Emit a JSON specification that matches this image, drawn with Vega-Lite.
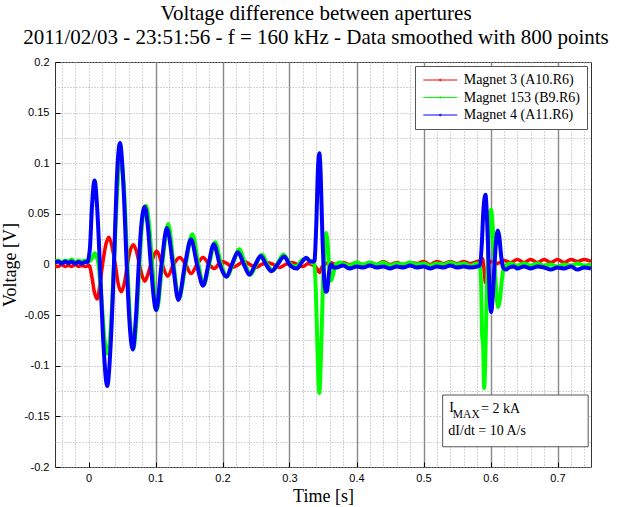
{
  "$schema": "https://vega.github.io/schema/vega-lite/v6.json",
  "width": 536,
  "height": 405,
  "autosize": "none",
  "padding": {"left": 55, "top": 62, "right": 40, "bottom": 40},
  "background": "white",
  "title": {
    "text": ["Voltage difference between apertures", "2011/02/03 - 23:51:56 - f = 160 kHz - Data smoothed with 800 points"],
    "font": "Liberation Serif",
    "fontSize": 21,
    "fontWeight": "normal",
    "color": "black",
    "lineHeight": 24,
    "anchor": "middle",
    "frame": "group",
    "dx": -7,
    "offset": 8
  },
  "datasets": {
    "red": [
      {"t": -0.05, "v": -0.001}, {"t": -0.045, "v": -0.002}, {"t": -0.04, "v": 0.0}, {"t": -0.035, "v": -0.002}, {"t": -0.03, "v": -0.001}, {"t": -0.025, "v": -0.002}, {"t": -0.02, "v": 0.0}, {"t": -0.015, "v": -0.002}, {"t": -0.01, "v": -0.001}, {"t": -0.005, "v": -0.002}, {"t": 0.001, "v": -0.001},
      {"t": 0.005, "v": -0.012}, {"t": 0.009, "v": -0.028}, {"t": 0.013, "v": -0.034}, {"t": 0.017, "v": -0.02}, {"t": 0.021, "v": 0.0}, {"t": 0.026, "v": 0.02}, {"t": 0.0305, "v": 0.027}, {"t": 0.035, "v": 0.018}, {"t": 0.04, "v": 0.0}, {"t": 0.044, "v": -0.018}, {"t": 0.049, "v": -0.027}, {"t": 0.054, "v": -0.017}, {"t": 0.058, "v": 0.0},
      {"t": 0.062, "v": 0.013}, {"t": 0.067, "v": 0.0195}, {"t": 0.072, "v": 0.012}, {"t": 0.076, "v": 0.0}, {"t": 0.08, "v": -0.011}, {"t": 0.084, "v": -0.0165}, {"t": 0.088, "v": -0.011}, {"t": 0.093, "v": 0.0}, {"t": 0.102, "v": 0.013}, {"t": 0.11, "v": 0.0}, {"t": 0.118, "v": -0.0115}, {"t": 0.127, "v": 0.0}, {"t": 0.136, "v": 0.007}, {"t": 0.145, "v": 0.0}, {"t": 0.153, "v": -0.009}, {"t": 0.162, "v": 0.0}, {"t": 0.171, "v": 0.007}, {"t": 0.18, "v": 0.0}, {"t": 0.188, "v": -0.004}, {"t": 0.198, "v": 0.003},
      {"t": 0.207, "v": 0.001}, {"t": 0.215, "v": -0.003}, {"t": 0.224, "v": 0.0}, {"t": 0.232, "v": 0.003}, {"t": 0.241, "v": 0.0}, {"t": 0.25, "v": -0.003}, {"t": 0.258, "v": 0.0}, {"t": 0.267, "v": 0.002}, {"t": 0.276, "v": 0.0}, {"t": 0.285, "v": -0.003}, {"t": 0.294, "v": 0.0}, {"t": 0.303, "v": 0.002}, {"t": 0.312, "v": 0.0}, {"t": 0.32, "v": -0.002}, {"t": 0.328, "v": 0.001}, {"t": 0.336, "v": -0.001}, {"t": 0.341, "v": -0.004}, {"t": 0.3445, "v": -0.008}, {"t": 0.348, "v": -0.003}, {"t": 0.354, "v": 0.001}, {"t": 0.36, "v": 0.002},
      {"t": 0.37, "v": 0.0}, {"t": 0.38, "v": 0.002}, {"t": 0.39, "v": 0.0}, {"t": 0.4, "v": 0.002}, {"t": 0.41, "v": 0.0}, {"t": 0.42, "v": 0.002}, {"t": 0.43, "v": 0.0}, {"t": 0.44, "v": 0.003}, {"t": 0.45, "v": 0.0}, {"t": 0.46, "v": 0.002}, {"t": 0.47, "v": 0.0}, {"t": 0.48, "v": 0.002}, {"t": 0.49, "v": 0.001}, {"t": 0.5, "v": 0.003}, {"t": 0.51, "v": 0.0}, {"t": 0.52, "v": 0.003}, {"t": 0.53, "v": 0.001}, {"t": 0.54, "v": 0.003}, {"t": 0.55, "v": 0.001}, {"t": 0.56, "v": 0.003}, {"t": 0.57, "v": 0.001}, {"t": 0.58, "v": 0.003},
      {"t": 0.585, "v": 0.004}, {"t": 0.588, "v": 0.006}, {"t": 0.5905, "v": -0.006}, {"t": 0.5925, "v": -0.018}, {"t": 0.595, "v": -0.005}, {"t": 0.598, "v": 0.002}, {"t": 0.603, "v": 0.003}, {"t": 0.61, "v": 0.001}, {"t": 0.62, "v": 0.004}, {"t": 0.63, "v": 0.002}, {"t": 0.64, "v": 0.005}, {"t": 0.65, "v": 0.002}, {"t": 0.66, "v": 0.005}, {"t": 0.67, "v": 0.002}, {"t": 0.68, "v": 0.005}, {"t": 0.69, "v": 0.002}, {"t": 0.7, "v": 0.005}, {"t": 0.71, "v": 0.002}, {"t": 0.72, "v": 0.005}, {"t": 0.73, "v": 0.003}, {"t": 0.74, "v": 0.005}, {"t": 0.75, "v": 0.003}
    ],
    "green": [
      {"t": -0.05, "v": 0.003}, {"t": -0.045, "v": 0.004}, {"t": -0.04, "v": 0.002}, {"t": -0.035, "v": 0.004}, {"t": -0.03, "v": 0.003}, {"t": -0.025, "v": 0.005}, {"t": -0.02, "v": 0.002}, {"t": -0.015, "v": 0.004}, {"t": -0.01, "v": 0.003}, {"t": -0.005, "v": 0.004}, {"t": 0.0, "v": 0.003},
      {"t": 0.005, "v": 0.006}, {"t": 0.0095, "v": 0.011}, {"t": 0.012, "v": 0.008}, {"t": 0.015, "v": 0.0}, {"t": 0.02, "v": -0.04}, {"t": 0.024, "v": -0.075}, {"t": 0.0285, "v": -0.088}, {"t": 0.033, "v": -0.065}, {"t": 0.038, "v": 0.0}, {"t": 0.043, "v": 0.075}, {"t": 0.048, "v": 0.106}, {"t": 0.053, "v": 0.075}, {"t": 0.058, "v": 0.0}, {"t": 0.062, "v": -0.055}, {"t": 0.067, "v": -0.083}, {"t": 0.072, "v": -0.05}, {"t": 0.076, "v": 0.0}, {"t": 0.08, "v": 0.04}, {"t": 0.086, "v": 0.058}, {"t": 0.091, "v": 0.035}, {"t": 0.095, "v": 0.0},
      {"t": 0.102, "v": -0.045}, {"t": 0.11, "v": 0.0}, {"t": 0.119, "v": 0.04}, {"t": 0.127, "v": 0.0}, {"t": 0.135, "v": -0.034}, {"t": 0.145, "v": 0.0}, {"t": 0.155, "v": 0.03}, {"t": 0.164, "v": 0.0}, {"t": 0.172, "v": -0.02}, {"t": 0.18, "v": 0.0}, {"t": 0.189, "v": 0.022}, {"t": 0.198, "v": 0.0}, {"t": 0.207, "v": -0.012}, {"t": 0.215, "v": 0.0}, {"t": 0.225, "v": 0.015}, {"t": 0.234, "v": 0.0}, {"t": 0.242, "v": -0.01}, {"t": 0.25, "v": 0.0}, {"t": 0.259, "v": 0.01}, {"t": 0.267, "v": 0.0}, {"t": 0.275, "v": -0.006}, {"t": 0.283, "v": 0.002}, {"t": 0.291, "v": 0.01}, {"t": 0.3, "v": 0.001}, {"t": 0.31, "v": -0.002}, {"t": 0.318, "v": 0.004}, {"t": 0.326, "v": 0.006}, {"t": 0.333, "v": 0.002},
      {"t": 0.337, "v": 0.0}, {"t": 0.3395, "v": -0.03}, {"t": 0.342, "v": -0.09}, {"t": 0.3445, "v": -0.127}, {"t": 0.347, "v": -0.09}, {"t": 0.3495, "v": -0.03}, {"t": 0.352, "v": 0.012}, {"t": 0.3545, "v": 0.031}, {"t": 0.357, "v": 0.02}, {"t": 0.3595, "v": -0.006}, {"t": 0.362, "v": -0.016}, {"t": 0.365, "v": -0.01}, {"t": 0.369, "v": 0.0}, {"t": 0.375, "v": 0.002},
      {"t": 0.38, "v": 0.001}, {"t": 0.39, "v": -0.001}, {"t": 0.4, "v": 0.002}, {"t": 0.41, "v": 0.0}, {"t": 0.42, "v": 0.002}, {"t": 0.43, "v": 0.0}, {"t": 0.44, "v": 0.002}, {"t": 0.45, "v": -0.001}, {"t": 0.46, "v": 0.001}, {"t": 0.47, "v": 0.0}, {"t": 0.48, "v": 0.002}, {"t": 0.49, "v": 0.0}, {"t": 0.5, "v": 0.001}, {"t": 0.51, "v": -0.001}, {"t": 0.52, "v": 0.001}, {"t": 0.53, "v": 0.0}, {"t": 0.54, "v": 0.002}, {"t": 0.55, "v": 0.0}, {"t": 0.56, "v": 0.001}, {"t": 0.57, "v": -0.001}, {"t": 0.58, "v": 0.001}, {"t": 0.584, "v": 0.0},
      {"t": 0.586, "v": -0.02}, {"t": 0.5875, "v": -0.07}, {"t": 0.589, "v": -0.08}, {"t": 0.5905, "v": -0.122}, {"t": 0.592, "v": -0.1}, {"t": 0.594, "v": -0.04}, {"t": 0.597, "v": 0.02}, {"t": 0.599, "v": 0.045}, {"t": 0.601, "v": 0.054}, {"t": 0.603, "v": 0.04}, {"t": 0.606, "v": 0.0}, {"t": 0.609, "v": -0.03}, {"t": 0.6115, "v": -0.042}, {"t": 0.614, "v": -0.035}, {"t": 0.617, "v": -0.015}, {"t": 0.62, "v": -0.003}, {"t": 0.625, "v": 0.0}, {"t": 0.63, "v": 0.001},
      {"t": 0.64, "v": -0.001}, {"t": 0.65, "v": 0.001}, {"t": 0.66, "v": -0.001}, {"t": 0.67, "v": 0.001}, {"t": 0.68, "v": -0.001}, {"t": 0.69, "v": 0.0}, {"t": 0.7, "v": -0.002}, {"t": 0.71, "v": 0.0}, {"t": 0.72, "v": -0.001}, {"t": 0.73, "v": 0.001}, {"t": 0.74, "v": -0.001}, {"t": 0.75, "v": 0.0}
    ],
    "blue": [
      {"t": -0.05, "v": 0.002}, {"t": -0.045, "v": 0.003}, {"t": -0.04, "v": 0.001}, {"t": -0.035, "v": 0.003}, {"t": -0.03, "v": 0.0015}, {"t": -0.025, "v": 0.003}, {"t": -0.02, "v": 0.001}, {"t": -0.015, "v": 0.0025}, {"t": -0.01, "v": 0.001}, {"t": -0.005, "v": 0.0025}, {"t": -0.002, "v": 0.002},
      {"t": 0.002, "v": 0.015}, {"t": 0.005, "v": 0.055}, {"t": 0.009, "v": 0.083}, {"t": 0.013, "v": 0.055}, {"t": 0.017, "v": 0.0}, {"t": 0.022, "v": -0.075}, {"t": 0.028, "v": -0.12}, {"t": 0.033, "v": -0.08}, {"t": 0.038, "v": 0.0}, {"t": 0.042, "v": 0.08}, {"t": 0.047, "v": 0.12}, {"t": 0.052, "v": 0.08}, {"t": 0.057, "v": 0.0}, {"t": 0.061, "v": -0.055}, {"t": 0.066, "v": -0.084}, {"t": 0.071, "v": -0.05}, {"t": 0.075, "v": 0.0}, {"t": 0.079, "v": 0.04}, {"t": 0.084, "v": 0.057}, {"t": 0.089, "v": 0.035}, {"t": 0.093, "v": 0.0},
      {"t": 0.101, "v": -0.045}, {"t": 0.109, "v": 0.0}, {"t": 0.117, "v": 0.036}, {"t": 0.126, "v": 0.0}, {"t": 0.134, "v": -0.035}, {"t": 0.144, "v": 0.0}, {"t": 0.153, "v": 0.025}, {"t": 0.162, "v": 0.0}, {"t": 0.171, "v": -0.021}, {"t": 0.179, "v": 0.0}, {"t": 0.187, "v": 0.02}, {"t": 0.196, "v": 0.0}, {"t": 0.206, "v": -0.012}, {"t": 0.214, "v": 0.0}, {"t": 0.223, "v": 0.012}, {"t": 0.232, "v": 0.0}, {"t": 0.24, "v": -0.01}, {"t": 0.249, "v": 0.0}, {"t": 0.257, "v": 0.0085}, {"t": 0.265, "v": 0.0}, {"t": 0.273, "v": -0.0066}, {"t": 0.282, "v": 0.0}, {"t": 0.292, "v": 0.008}, {"t": 0.301, "v": -0.001}, {"t": 0.311, "v": -0.004}, {"t": 0.318, "v": 0.002}, {"t": 0.325, "v": 0.0066}, {"t": 0.331, "v": 0.003},
      {"t": 0.337, "v": 0.003}, {"t": 0.34, "v": 0.04}, {"t": 0.3425, "v": 0.095}, {"t": 0.3445, "v": 0.11}, {"t": 0.3465, "v": 0.09}, {"t": 0.349, "v": 0.03}, {"t": 0.351, "v": -0.005}, {"t": 0.354, "v": -0.027}, {"t": 0.356, "v": -0.026}, {"t": 0.359, "v": -0.008}, {"t": 0.362, "v": 0.0}, {"t": 0.366, "v": -0.003},
      {"t": 0.37, "v": -0.003}, {"t": 0.38, "v": -0.001}, {"t": 0.39, "v": -0.004}, {"t": 0.4, "v": -0.002}, {"t": 0.41, "v": -0.003}, {"t": 0.42, "v": -0.001}, {"t": 0.43, "v": -0.003}, {"t": 0.44, "v": -0.002}, {"t": 0.45, "v": -0.004}, {"t": 0.46, "v": -0.002}, {"t": 0.47, "v": -0.003}, {"t": 0.48, "v": -0.001}, {"t": 0.49, "v": -0.003}, {"t": 0.5, "v": -0.002}, {"t": 0.51, "v": -0.004}, {"t": 0.52, "v": -0.002}, {"t": 0.53, "v": -0.003}, {"t": 0.54, "v": -0.001}, {"t": 0.55, "v": -0.003}, {"t": 0.56, "v": -0.002}, {"t": 0.57, "v": -0.003}, {"t": 0.58, "v": -0.002}, {"t": 0.584, "v": -0.001},
      {"t": 0.587, "v": 0.02}, {"t": 0.5895, "v": 0.055}, {"t": 0.5925, "v": 0.069}, {"t": 0.5945, "v": 0.05}, {"t": 0.597, "v": 0.005}, {"t": 0.599, "v": -0.035}, {"t": 0.601, "v": -0.047}, {"t": 0.603, "v": -0.035}, {"t": 0.606, "v": 0.0}, {"t": 0.609, "v": 0.028}, {"t": 0.611, "v": 0.0335}, {"t": 0.613, "v": 0.028}, {"t": 0.616, "v": 0.008}, {"t": 0.619, "v": -0.003}, {"t": 0.623, "v": -0.005}, {"t": 0.628, "v": -0.003}, {"t": 0.635, "v": -0.002},
      {"t": 0.64, "v": -0.004}, {"t": 0.65, "v": -0.002}, {"t": 0.66, "v": -0.004}, {"t": 0.67, "v": -0.002}, {"t": 0.68, "v": -0.003}, {"t": 0.69, "v": -0.005}, {"t": 0.7, "v": -0.003}, {"t": 0.71, "v": -0.004}, {"t": 0.72, "v": -0.002}, {"t": 0.73, "v": -0.005}, {"t": 0.74, "v": -0.003}, {"t": 0.75, "v": -0.004}
    ]
  },
  "layer": [
    {
      "data": {"name": "red"},
      "mark": {"type": "line", "strokeWidth": 3.5, "interpolate": "monotone", "clip": true},
      "encoding": {
        "x": {
          "field": "t", "type": "quantitative",
          "scale": {"domain": [-0.05, 0.75], "nice": false, "zero": false},
          "axis": {
            "values": [-0.04, -0.02, 0, 0.02, 0.04, 0.06, 0.08, 0.1, 0.12, 0.14, 0.16, 0.18, 0.2, 0.22, 0.24, 0.26, 0.28, 0.3, 0.32, 0.34, 0.36, 0.38, 0.4, 0.42, 0.44, 0.46, 0.48, 0.5, 0.52, 0.54, 0.56, 0.58, 0.6, 0.62, 0.64, 0.66, 0.68, 0.7, 0.72, 0.74],
            "tickCount": 200,
            "title": "Time [s]",
            "titleFont": "Liberation Serif", "titleFontSize": 18, "titleFontWeight": "normal", "titleColor": "black", "titlePadding": 4,
            "labelFont": "Liberation Sans", "labelFontSize": 11, "labelColor": "black",
            "labelExpr": "abs(datum.value*10-round(datum.value*10))<0.001 ? (datum.value < -0.000001 ? '-' : '') + format(abs(datum.value), '.1~f') : ''",
            "labelOverlap": false, "labelFlush": false, "labelPadding": 10,
            "domain": false,
            "ticks": true, "tickSize": -5, "tickColor": "black", "tickWidth": 1,
            "tickOpacity": {"condition": {"test": "abs(datum.value*10-round(datum.value*10))<0.001", "value": 1}, "value": 0},
            "grid": true,
            "gridColor": {"condition": {"test": "datum.value > 0.05 && abs(datum.value*10-round(datum.value*10))<0.001", "value": "#888888"}, "value": "#a8a8a8"},
            "gridDash": {"condition": {"test": "datum.value > 0.05 && abs(datum.value*10-round(datum.value*10))<0.001", "value": []}, "value": [1, 2]},
            "gridWidth": {"condition": {"test": "datum.value > 0.05 && abs(datum.value*10-round(datum.value*10))<0.001", "value": 1.4}, "value": 1}
          }
        },
        "y": {
          "field": "v", "type": "quantitative",
          "scale": {"domain": [-0.2, 0.2], "nice": false, "zero": false},
          "axis": {
            "values": [-0.2, -0.175, -0.15, -0.125, -0.1, -0.075, -0.05, -0.025, 0, 0.025, 0.05, 0.075, 0.1, 0.125, 0.15, 0.175, 0.2],
            "tickCount": 200,
            "title": "Voltage [V]",
            "titleFont": "Liberation Serif", "titleFontSize": 18, "titleFontWeight": "normal", "titleColor": "black", "titlePadding": 4,
            "labelFont": "Liberation Sans", "labelFontSize": 11, "labelColor": "black",
            "labelExpr": "abs(datum.value*20-round(datum.value*20))<0.001 ? (datum.value < -0.000001 ? '-' : '') + format(abs(datum.value), '~g') : ''",
            "labelOverlap": false, "labelFlush": false, "labelPadding": 11,
            "domain": false,
            "ticks": true, "tickSize": -5, "tickColor": "black", "tickWidth": 1,
            "tickOpacity": {"condition": {"test": "abs(datum.value*20-round(datum.value*20))<0.001", "value": 1}, "value": 0},
            "grid": true, "gridColor": "#a8a8a8", "gridDash": [1, 2], "gridWidth": 1
          }
        },
        "color": {
          "datum": "Magnet 3 (A10.R6)", "type": "nominal",
          "scale": {"domain": ["Magnet 3 (A10.R6)", "Magnet 153 (B9.R6)", "Magnet 4 (A11.R6)"], "range": ["#ff0000", "#00ff00", "#0000ff"]},
          "legend": {
            "title": null, "orient": "top-right", "offset": 4,
            "padding": 7, "strokeColor": "#555555", "fillColor": "white",
            "labelFont": "Liberation Serif", "labelFontSize": 14, "labelColor": "black", "labelOffset": 16.4,
            "symbolType": "M-3,0L3,0M-0.15,0A0.15,0.15,0,1,1,0.15,0A0.15,0.15,0,1,1,-0.15,0",
            "symbolSize": 128.4, "symbolOffset": 11.3, "symbolStrokeWidth": 1, "rowPadding": 3.5
          }
        }
      }
    },
    {
      "data": {"name": "green"},
      "mark": {"type": "line", "strokeWidth": 4, "interpolate": "monotone", "clip": true},
      "encoding": {
        "x": {"field": "t", "type": "quantitative"},
        "y": {"field": "v", "type": "quantitative"},
        "color": {"datum": "Magnet 153 (B9.R6)", "type": "nominal"}
      }
    },
    {
      "data": {"name": "blue"},
      "mark": {"type": "line", "strokeWidth": 4, "interpolate": "monotone", "clip": true},
      "encoding": {
        "x": {"field": "t", "type": "quantitative"},
        "y": {"field": "v", "type": "quantitative"},
        "color": {"datum": "Magnet 4 (A11.R6)", "type": "nominal"}
      }
    },
    {
      "data": {"values": [{}]},
      "mark": {"type": "rect", "fill": "white", "stroke": "#555555", "strokeWidth": 1},
      "encoding": {
        "x": {"datum": 0.5286, "type": "quantitative"},
        "x2": {"datum": 0.7458},
        "y": {"datum": -0.1289, "type": "quantitative"},
        "y2": {"datum": -0.18}
      }
    },
    {
      "data": {"values": [{}]},
      "mark": {"type": "text", "text": "I", "font": "Liberation Serif", "fontSize": 14, "align": "left", "baseline": "alphabetic", "color": "black"},
      "encoding": {"x": {"datum": 0.5386, "type": "quantitative"}, "y": {"datum": -0.1454, "type": "quantitative"}}
    },
    {
      "data": {"values": [{}]},
      "mark": {"type": "text", "text": "MAX", "font": "Liberation Serif", "fontSize": 11.5, "align": "left", "baseline": "alphabetic", "color": "black"},
      "encoding": {"x": {"datum": 0.5438, "type": "quantitative"}, "y": {"datum": -0.1516, "type": "quantitative"}}
    },
    {
      "data": {"values": [{}]},
      "mark": {"type": "text", "text": "= 2 kA", "font": "Liberation Serif", "fontSize": 14, "align": "left", "baseline": "alphabetic", "color": "black"},
      "encoding": {"x": {"datum": 0.5858, "type": "quantitative"}, "y": {"datum": -0.1464, "type": "quantitative"}}
    },
    {
      "data": {"values": [{}]},
      "mark": {"type": "text", "text": "dI/dt = 10 A/s", "font": "Liberation Serif", "fontSize": 14, "align": "left", "baseline": "alphabetic", "color": "black"},
      "encoding": {"x": {"datum": 0.5371, "type": "quantitative"}, "y": {"datum": -0.1684, "type": "quantitative"}}
    }
  ],
  "config": {
    "view": {"stroke": "#333333", "strokeWidth": 1},
    "legend": {"symbolStrokeWidth": 1}
  }
}
